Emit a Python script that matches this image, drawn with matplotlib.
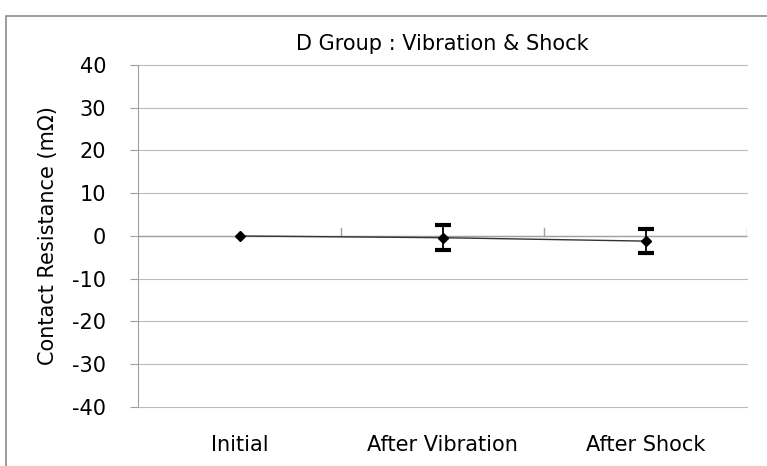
import matplotlib.pyplot as plt
from matplotlib.patches import Rectangle

categories = ['Initial', 'After Vibration', 'After Shock']
means = [0.0, -0.4, -1.2]
errors = [0.0, 2.9, 2.8]

plt.rcParams['axes.unicode_minus'] = False

fig = plt.figure(figsize=(7.67, 4.66), dpi=100)
ax = fig.add_axes([0.18, 0.1266, 0.794, 0.734])

# outer chart border (cut off at right / bottom like the screenshot)
fig.patches.append(Rectangle((0.008, -0.1), 1.2, 1.065, transform=fig.transFigure,
                             fill=False, edgecolor='#8c8c8c', linewidth=1.2))

x = list(range(len(categories)))
ax.plot(x, means, color='#333333', linewidth=1, zorder=3)
ax.errorbar(x[1:], means[1:], yerr=errors[1:], fmt='none', ecolor='black',
            elinewidth=1.3, capsize=6, capthick=3, zorder=4)
ax.plot(x, means, linestyle='none', marker='D', markersize=5.5,
        color='black', zorder=5)

ax.set_xlim(-0.5, 2.5)
ax.set_ylim(-40, 40)
ax.set_yticks(range(-40, 41, 10))
ax.yaxis.grid(True, color='#bcbcbc', linewidth=0.8)
ax.set_axisbelow(True)
for gl in ax.get_ygridlines():
    gl.set_clip_on(False)

# category axis crossing at zero, ticks pointing upward
ax.axhline(0, color='#a0a0a0', linewidth=1, zorder=2)
for b in [0.5, 1.5, 2.5]:
    ax.plot([b, b], [0, 1.9], color='#a0a0a0', linewidth=1, zorder=2)

ax.set_xticks(x)
ax.set_xticklabels(categories, fontsize=15)
ax.tick_params(axis='x', length=0, pad=20)
ax.tick_params(axis='y', labelsize=15, length=6, color='#a0a0a0', pad=17)

for s in ['top', 'right', 'bottom']:
    ax.spines[s].set_visible(False)
ax.spines['left'].set_color('#a0a0a0')

ax.set_ylabel('Contact Resistance (m\u03a9)', fontsize=15, labelpad=10)
ax.set_title('D Group : Vibration & Shock', fontsize=15, pad=11)

fig.savefig('out.png', dpi=100)
